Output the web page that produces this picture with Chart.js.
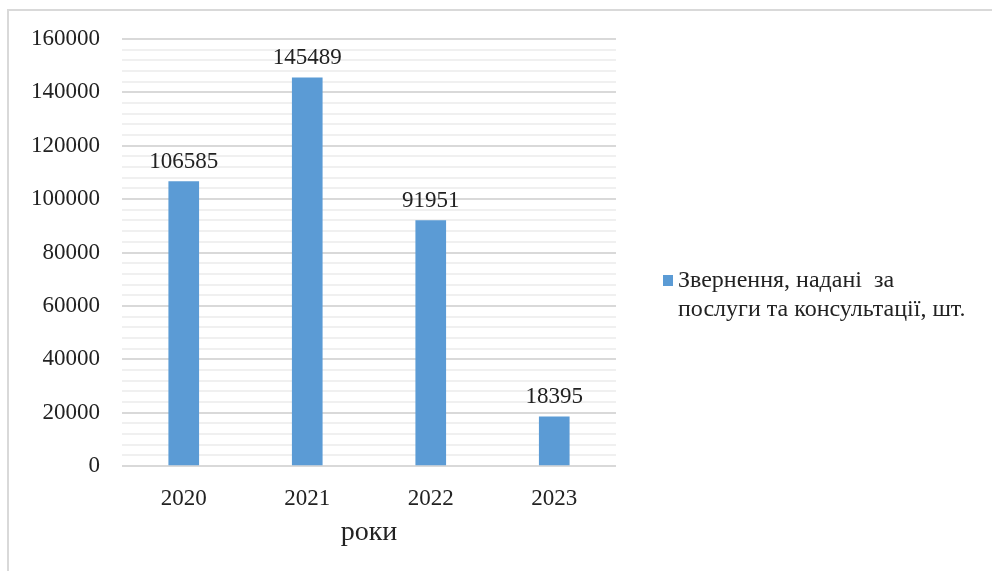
<!DOCTYPE html>
<html>
<head>
<meta charset="utf-8">
<script src="https://cdn.jsdelivr.net/npm/chart.js@4"></script>
<style>
  html, body { margin: 0; padding: 0; background: #fff; }
  .frame {
    position: absolute; left: 7px; top: 9px; width: 985px; height: 562px;
    border-top: 2px solid #d9d9d9; border-left: 2px solid #d9d9d9;
  }
  #wrap { position: absolute; left: 0; top: 0; width: 992px; height: 571px; }
  .legend {
    position: absolute; left: 663px; top: 265px;
    font-family: "Liberation Serif", "Times New Roman", serif;
    font-size: 24px; line-height: 29px; color: #222;
  }
  .legend .box {
    position: absolute; left: 0; top: 10px; width: 10px; height: 11px; background: #5b9bd5;
  }
  .legend .txt { position: absolute; left: 15px; top: 0; white-space: nowrap; }
</style>
</head>
<body>
<div class="frame"></div>
<div id="wrap"><canvas id="myChart" width="992" height="571"></canvas></div>
<div class="legend">
  <div class="box"></div>
  <div class="txt">Звернення, надані&nbsp; за<br>послуги та консультації, шт.</div>
</div>
<script>
var years = ['2020', '2021', '2022', '2023'];
var requests = [106585, 145489, 91951, 18395];
var seriesName = 'Звернення, надані за послуги та консультації, шт.';
var axisTitle = 'роки';
var yMax = 160000;
var majorStep = 20000;
var minorStep = 4000;

var serif = '"Liberation Serif", "Times New Roman", serif';

// value labels above each bar
var barValues = {
    id: 'barValues',
    afterDatasetsDraw: function(chart) {
        var ctx = chart.ctx;
        var meta = chart.getDatasetMeta(0);
        ctx.save();
        ctx.font = '23px ' + serif;
        ctx.fillStyle = '#222';
        ctx.textAlign = 'center';
        ctx.textBaseline = 'alphabetic';
        meta.data.forEach(function(bar, i) {
            ctx.fillText(String(chart.data.datasets[0].data[i]), bar.x, bar.y - 14);
        });
        ctx.restore();
    }
};

var ctx = document.getElementById('myChart').getContext('2d');
var myChart = new Chart(ctx, {
    type: 'bar',
    data: {
        labels: years,
        datasets: [{
            label: seriesName,
            data: requests,
            backgroundColor: '#5b9bd5',
            borderWidth: 0,
            barThickness: 30
        }]
    },
    options: {
        responsive: false,
        animation: false,
        layout: { padding: { left: 0, top: 39, right: 376, bottom: 0 } },
        plugins: {
            legend: { display: false },
            tooltip: { enabled: false }
        },
        scales: {
            x: {
                grid: { display: false },
                border: { display: false },
                ticks: {
                    color: '#222',
                    font: { family: serif, size: 23 },
                    padding: 11
                },
                title: {
                    display: true,
                    text: axisTitle,
                    color: '#222',
                    font: { family: serif, size: 28 },
                    padding: { top: 0, bottom: 22 }
                },
                afterFit: function(scale) { scale.height = 105; }
            },
            y: {
                min: 0,
                max: yMax,
                border: { display: false },
                grid: {
                    drawTicks: false,
                    lineWidth: 2,
                    color: function(c) {
                        return c.tick && c.tick.value % majorStep === 0 ? '#d9d9d9' : '#f0f0f0';
                    }
                },
                ticks: {
                    stepSize: minorStep,
                    autoSkip: false,
                    color: '#222',
                    font: { family: serif, size: 23 },
                    padding: 22,
                    callback: function(v) {
                        return v % majorStep === 0 ? String(v) : '';
                    }
                },
                afterFit: function(scale) { scale.width = 122; }
            }
        }
    },
    plugins: [barValues]
});
</script>
</body>
</html>
